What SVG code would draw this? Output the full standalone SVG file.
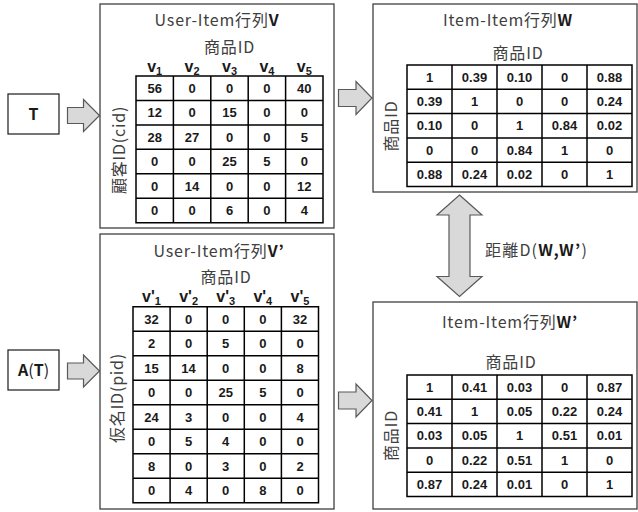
<svg xmlns="http://www.w3.org/2000/svg" width="638" height="512" viewBox="0 0 638 512">
<style>
.panel{fill:#fff;stroke:#404040;stroke-width:1.3}
.box{fill:#fff;stroke:#1a1a1a;stroke-width:1.2}
.grid{fill:none;stroke:#000;stroke-width:1.5}
.arrow{fill:#d9d9d9;stroke:#595959;stroke-width:1.2;stroke-linejoin:miter}
.t{font-family:"Noto Sans CJK JP","Noto Sans",sans-serif;font-size:16px;fill:#404040}
.ls{letter-spacing:0.8px}
.b{font-weight:bold;fill:#1a1a1a}
.c{font-family:"Liberation Sans",Arial,sans-serif;font-size:13px;font-weight:bold;fill:#1a1a1a;text-anchor:middle}
.h{font-family:"Liberation Sans",Arial,sans-serif;font-size:16px;font-weight:bold;fill:#1a1a1a;text-anchor:middle}
.s{font-size:11px}
.m{text-anchor:middle}
</style>

<g id="connectors">
<path class="arrow" d="M67.5,107.5 H83.5 V99.5 L99.5,115.5 L83.5,131.5 V123.5 H67.5 Z"/>
<path class="arrow" d="M67.5,363 H83.5 V355 L99.5,371 L83.5,387 V379 H67.5 Z"/>
<path class="arrow" d="M338.5,89.5 H356 V81.5 L372,98 L356,114.5 V106.5 H338.5 Z"/>
<path class="arrow" d="M338.5,392 H356 V384 L372,400.5 L356,417 V409 H338.5 Z"/>
<path class="arrow" d="M459.5,195 L482,215 H470 V276.5 H482 L459.5,296.5 L437,276.5 H449 V215 H437 Z"/>
<text class="t" x="485" y="256" letter-spacing="1.2">距離D(<tspan class="b">W,W’</tspan>)</text>
</g>

<g id="T">
<rect class="box" x="8" y="94" width="51" height="40"/>
<text class="t b m" x="33.5" y="120" font-size="16">T</text>
</g>

<g id="AT">
<rect class="box" x="8" y="350" width="51" height="40"/>
<text class="t m" x="33.5" y="376" fill="#1a1a1a"><tspan class="b">A</tspan><tspan fill="#1a1a1a">(</tspan><tspan class="b">T</tspan><tspan fill="#1a1a1a">)</tspan></text>
</g>

<g id="V">
<rect class="panel" x="100" y="4" width="234" height="224"/>
<text class="t m ls" x="217" y="26">User-Item行列<tspan class="b">V</tspan></text>
<text class="t m ls" x="229.5" y="53">商品ID</text>
<text class="h" x="154.7" y="72">v<tspan class="s" dy="3">1</tspan></text>
<text class="h" x="192.1" y="72">v<tspan class="s" dy="3">2</tspan></text>
<text class="h" x="229.5" y="72">v<tspan class="s" dy="3">3</tspan></text>
<text class="h" x="266.9" y="72">v<tspan class="s" dy="3">4</tspan></text>
<text class="h" x="304.3" y="72">v<tspan class="s" dy="3">5</tspan></text>
<text class="t m ls" transform="translate(125,150) rotate(-90)" font-size="17">顧客ID(cid)</text>
<path class="grid" d="M136,76 H323 V222.7 H136 Z M173.4,76 V222.7 M210.8,76 V222.7 M248.2,76 V222.7 M285.6,76 V222.7 M136,100.45 H323 M136,124.9 H323 M136,149.35 H323 M136,173.8 H323 M136,198.25 H323"/>
<g class="c">
<text x="154.7" y="92.7">56</text><text x="192.1" y="92.7">0</text><text x="229.5" y="92.7">0</text><text x="266.9" y="92.7">0</text><text x="304.3" y="92.7">40</text>
<text x="154.7" y="117.2">12</text><text x="192.1" y="117.2">0</text><text x="229.5" y="117.2">15</text><text x="266.9" y="117.2">0</text><text x="304.3" y="117.2">0</text>
<text x="154.7" y="141.6">28</text><text x="192.1" y="141.6">27</text><text x="229.5" y="141.6">0</text><text x="266.9" y="141.6">0</text><text x="304.3" y="141.6">5</text>
<text x="154.7" y="166.1">0</text><text x="192.1" y="166.1">0</text><text x="229.5" y="166.1">25</text><text x="266.9" y="166.1">5</text><text x="304.3" y="166.1">0</text>
<text x="154.7" y="190.5">0</text><text x="192.1" y="190.5">14</text><text x="229.5" y="190.5">0</text><text x="266.9" y="190.5">0</text><text x="304.3" y="190.5">12</text>
<text x="154.7" y="215">0</text><text x="192.1" y="215">0</text><text x="229.5" y="215">6</text><text x="266.9" y="215">0</text><text x="304.3" y="215">4</text>
</g>
</g>

<g id="W">
<rect class="panel" x="373" y="4" width="264" height="188"/>
<text class="t m ls" x="508" y="26">Item-Item行列<tspan class="b">W</tspan></text>
<text class="t m ls" x="518" y="59">商品ID</text>
<text class="t m ls" transform="translate(397,126) rotate(-90)" font-size="17">商品ID</text>
<path class="grid" d="M407,65 H632 V186.5 H407 Z M452,65 V186.5 M497,65 V186.5 M542,65 V186.5 M587,65 V186.5 M407,89.3 H632 M407,113.6 H632 M407,137.9 H632 M407,162.2 H632"/>
<g class="c">
<text x="429.5" y="81.7">1</text><text x="474.5" y="81.7">0.39</text><text x="519.5" y="81.7">0.10</text><text x="564.5" y="81.7">0</text><text x="609.5" y="81.7">0.88</text>
<text x="429.5" y="106">0.39</text><text x="474.5" y="106">1</text><text x="519.5" y="106">0</text><text x="564.5" y="106">0</text><text x="609.5" y="106">0.24</text>
<text x="429.5" y="130.3">0.10</text><text x="474.5" y="130.3">0</text><text x="519.5" y="130.3">1</text><text x="564.5" y="130.3">0.84</text><text x="609.5" y="130.3">0.02</text>
<text x="429.5" y="154.6">0</text><text x="474.5" y="154.6">0</text><text x="519.5" y="154.6">0.84</text><text x="564.5" y="154.6">1</text><text x="609.5" y="154.6">0</text>
<text x="429.5" y="178.9">0.88</text><text x="474.5" y="178.9">0.24</text><text x="519.5" y="178.9">0.02</text><text x="564.5" y="178.9">0</text><text x="609.5" y="178.9">1</text>
</g>
</g>

<g id="V2">
<rect class="panel" x="100" y="234" width="234" height="275"/>
<text class="t m ls" x="219" y="257">User-Item行列<tspan class="b">V’</tspan></text>
<text class="t m ls" x="226" y="283">商品ID</text>
<text class="h" x="151.5" y="302">v'<tspan class="s" dy="3">1</tspan></text>
<text class="h" x="188.6" y="302">v'<tspan class="s" dy="3">2</tspan></text>
<text class="h" x="225.7" y="302">v'<tspan class="s" dy="3">3</tspan></text>
<text class="h" x="262.8" y="302">v'<tspan class="s" dy="3">4</tspan></text>
<text class="h" x="300" y="302">v'<tspan class="s" dy="3">5</tspan></text>
<text class="t m ls" transform="translate(123,398) rotate(-90)" font-size="17">仮名ID(pid)</text>
<path class="grid" d="M133,306.7 H318.5 V502.7 H133 Z M170.1,306.7 V502.7 M207.2,306.7 V502.7 M244.3,306.7 V502.7 M281.4,306.7 V502.7 M133,331.2 H318.5 M133,355.7 H318.5 M133,380.2 H318.5 M133,404.7 H318.5 M133,429.2 H318.5 M133,453.7 H318.5 M133,478.2 H318.5"/>
<g class="c">
<text x="151.5" y="323.5">32</text><text x="188.6" y="323.5">0</text><text x="225.7" y="323.5">0</text><text x="262.8" y="323.5">0</text><text x="300" y="323.5">32</text>
<text x="151.5" y="348">2</text><text x="188.6" y="348">0</text><text x="225.7" y="348">5</text><text x="262.8" y="348">0</text><text x="300" y="348">0</text>
<text x="151.5" y="372.5">15</text><text x="188.6" y="372.5">14</text><text x="225.7" y="372.5">0</text><text x="262.8" y="372.5">0</text><text x="300" y="372.5">8</text>
<text x="151.5" y="397">0</text><text x="188.6" y="397">0</text><text x="225.7" y="397">25</text><text x="262.8" y="397">5</text><text x="300" y="397">0</text>
<text x="151.5" y="421.5">24</text><text x="188.6" y="421.5">3</text><text x="225.7" y="421.5">0</text><text x="262.8" y="421.5">0</text><text x="300" y="421.5">4</text>
<text x="151.5" y="446">0</text><text x="188.6" y="446">5</text><text x="225.7" y="446">4</text><text x="262.8" y="446">0</text><text x="300" y="446">0</text>
<text x="151.5" y="470.5">8</text><text x="188.6" y="470.5">0</text><text x="225.7" y="470.5">3</text><text x="262.8" y="470.5">0</text><text x="300" y="470.5">2</text>
<text x="151.5" y="495">0</text><text x="188.6" y="495">4</text><text x="225.7" y="495">0</text><text x="262.8" y="495">8</text><text x="300" y="495">0</text>
</g>
</g>

<g id="W2">
<rect class="panel" x="373" y="302" width="264" height="207"/>
<text class="t m ls" x="510" y="328">Item-Item行列<tspan class="b">W’</tspan></text>
<text class="t m ls" x="511" y="368">商品ID</text>
<text class="t m ls" transform="translate(397,435.5) rotate(-90)" font-size="17">商品ID</text>
<path class="grid" d="M407,375 H632 V496.5 H407 Z M452,375 V496.5 M497,375 V496.5 M542,375 V496.5 M587,375 V496.5 M407,399.3 H632 M407,423.6 H632 M407,447.9 H632 M407,472.2 H632"/>
<g class="c">
<text x="429.5" y="391.7">1</text><text x="474.5" y="391.7">0.41</text><text x="519.5" y="391.7">0.03</text><text x="564.5" y="391.7">0</text><text x="609.5" y="391.7">0.87</text>
<text x="429.5" y="416">0.41</text><text x="474.5" y="416">1</text><text x="519.5" y="416">0.05</text><text x="564.5" y="416">0.22</text><text x="609.5" y="416">0.24</text>
<text x="429.5" y="440.3">0.03</text><text x="474.5" y="440.3">0.05</text><text x="519.5" y="440.3">1</text><text x="564.5" y="440.3">0.51</text><text x="609.5" y="440.3">0.01</text>
<text x="429.5" y="464.6">0</text><text x="474.5" y="464.6">0.22</text><text x="519.5" y="464.6">0.51</text><text x="564.5" y="464.6">1</text><text x="609.5" y="464.6">0</text>
<text x="429.5" y="488.9">0.87</text><text x="474.5" y="488.9">0.24</text><text x="519.5" y="488.9">0.01</text><text x="564.5" y="488.9">0</text><text x="609.5" y="488.9">1</text>
</g>
</g>
</svg>
